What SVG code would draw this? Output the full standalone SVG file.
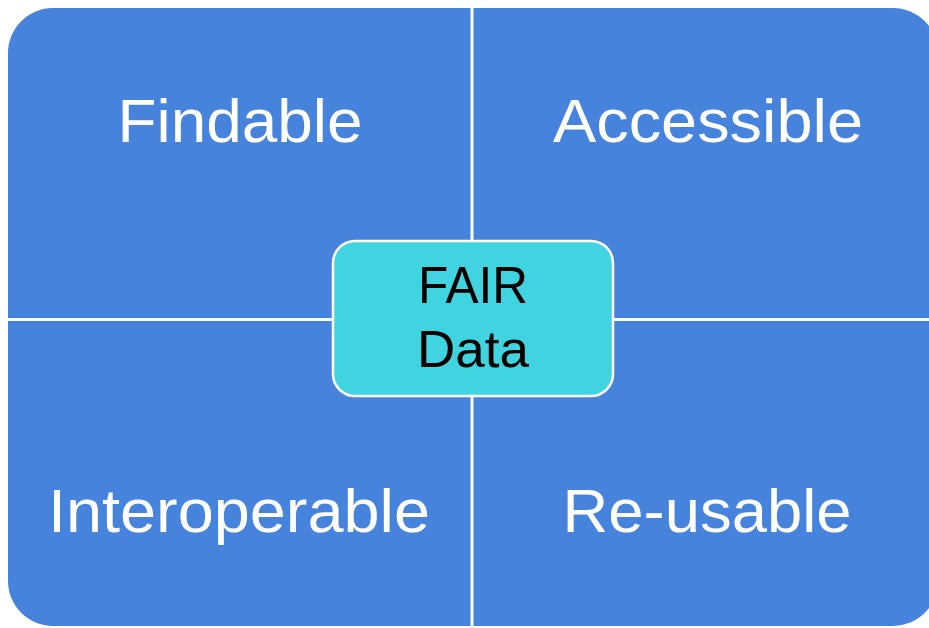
<svg xmlns="http://www.w3.org/2000/svg" width="929" height="628" viewBox="0 0 929 628">
  <defs>
    <clipPath id="outer">
      <rect x="8" y="8" width="930" height="618" rx="45" ry="45"/>
    </clipPath>
    <style>
      .quad { fill: #4583DD; }
      .qlabel { font-family: "Liberation Sans", Arial, sans-serif; font-size: 61px; fill: #FFFFFF; text-anchor: middle; }
      .center { fill: #40D4E1; stroke: #FFFFFF; stroke-width: 2.5; }
      .clabel { font-family: "Liberation Sans", Arial, sans-serif; font-size: 52px; fill: #000000; text-anchor: middle; }
    </style>
  </defs>
  <rect width="929" height="628" fill="#FFFFFF"/>
  <g clip-path="url(#outer)">
    <g id="findable">
      <rect class="quad" x="8" y="8" width="462.5" height="310"/>
      <text class="qlabel" x="240" y="142" textLength="245" lengthAdjust="spacingAndGlyphs">Findable</text>
    </g>
    <g id="accessible">
      <rect class="quad" x="473.5" y="8" width="465" height="310"/>
      <text class="qlabel" x="708" y="142" textLength="310" lengthAdjust="spacingAndGlyphs">Accessible</text>
    </g>
    <g id="interoperable">
      <rect class="quad" x="8" y="321" width="462.5" height="305"/>
      <text class="qlabel" x="239" y="532" textLength="382" lengthAdjust="spacingAndGlyphs">Interoperable</text>
    </g>
    <g id="reusable">
      <rect class="quad" x="473.5" y="321" width="465" height="305"/>
      <text class="qlabel" x="707" y="532" textLength="289" lengthAdjust="spacingAndGlyphs">Re-usable</text>
    </g>
  </g>
  <g id="connectors"></g>
  <g id="fair-data">
    <rect class="center" x="333" y="241" width="280" height="155" rx="22" ry="22"/>
    <text class="clabel" x="473" y="303" textLength="110" lengthAdjust="spacingAndGlyphs">FAIR</text>
    <text class="clabel" x="473" y="367" textLength="112" lengthAdjust="spacingAndGlyphs">Data</text>
  </g>
</svg>
